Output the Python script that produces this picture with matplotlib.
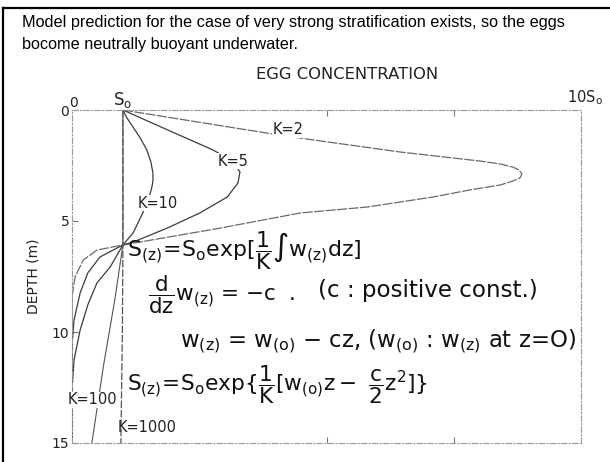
import matplotlib
matplotlib.use('Agg')
import matplotlib.pyplot as plt
from matplotlib.lines import Line2D

# egg concentration (units of S0) against depth (m), one profile per K
depth_k2 = [0, 1.04, 1.31, 1.89, 2.30, 2.43, 2.57, 2.70, 2.88, 3.06, 3.20, 3.38, 3.60, 3.92, 4.37, 4.64,
            5.32, 6.08, 6.31, 6.76, 7.52, 8.42, 15]
conc_k2 = [1, 3.83, 4.62, 6.44, 8.02, 8.41, 8.66, 8.78, 8.84, 8.80, 8.66, 8.41, 7.82, 7.09, 5.80, 4.48,
           2.91, 1, 0.49, 0.22, 0.06, 0, 0]

depth_k5 = [0, 0.95, 1.80, 2.30, 2.79, 3.29, 3.92, 4.64, 5.32, 5.95, 6.08, 6.62, 7.34, 8.24, 9.46, 10.59, 15]
conc_k5 = [1, 1.93, 2.77, 3.15, 3.30, 3.26, 3.05, 2.51, 1.87, 1.20, 1, 0.55, 0.31, 0.16, 0.04, 0, 0]

depth_k10 = [0, 0.36, 0.77, 1.26, 1.80, 2.34, 2.84, 3.20, 3.47, 4.05, 4.64, 5.54, 6.08, 7.07, 7.79, 8.78,
             9.91, 11.26, 12.61, 15]
conc_k10 = [1, 1.08, 1.20, 1.34, 1.47, 1.55, 1.59, 1.59, 1.57, 1.50, 1.39, 1.20, 1, 0.75, 0.49, 0.31,
            0.16, 0.04, 0, 0]

depth_k100 = [0, 6.08, 8.56, 11.5, 15]
conc_k100 = [1, 1, 0.84, 0.62, 0.39]

depth_k1000 = [0, 6.08, 10, 15]
conc_k1000 = [1, 1, 0.99, 0.96]

depth_ticks = [0, 5, 10, 15]
conc_ticks = [5, 7.5]

plt.rcParams['mathtext.default'] = 'regular'

fig = plt.figure(figsize=(6.1, 4.62), dpi=100)
ax = fig.add_axes([72 / 610, 1 - 443 / 462, 509 / 610, 333 / 462])

ink = '#3c3c3c'
ax.plot(conc_k2, depth_k2, color='#6a6a6a', lw=0.9, ls=(0, (8, 1.2)))
ax.plot(conc_k5, depth_k5, color=ink, lw=0.9)
ax.plot(conc_k10, depth_k10, color=ink, lw=0.9)
ax.plot(conc_k100, depth_k100, color='#555555', lw=0.8)
ax.plot(conc_k1000, depth_k1000, color='#555555', lw=0.9, ls=(0, (6, 1.5)))

ax.set_xlim(0, 10)
ax.set_ylim(15, 0)
for s in ax.spines.values():
    s.set_color('#9a9a9a')
    s.set_linewidth(0.8)
    s.set_linestyle((0, (5, 2, 1, 2)))

ax.set_yticks(depth_ticks)
ax.set_yticklabels(['0', '5', '10', '15'])
ax.set_xticks(conc_ticks)
ax.set_xticklabels([])
ax.tick_params(axis='x', direction='in', length=4, color='#777777', top=True, bottom=True)
ax.tick_params(axis='y', direction='in', length=4, color='#777777', pad=2,
               labelsize=10, labelcolor='#222222')
ax.set_ylabel('DEPTH (m)', fontsize=10, color='#222222', labelpad=8)
ax.set_title('EGG CONCENTRATION', fontsize=11.8, color='#222222', pad=22, x=0.54)

lbl = dict(fontsize=10.5, color='#222222', va='center', ha='left')
box = dict(facecolor='white', edgecolor='none', pad=0.5)
ax.text(0.02, -0.32, '0', fontsize=10, color='#222222', ha='center', va='center')
ax.text(1, -0.45, '$S_o$', fontsize=12, color='#222222', ha='center', va='center')
ax.text(10.08, -0.54, '$10S_o$', fontsize=10.5, color='#222222', ha='center', va='center')
ax.text(3.95, 0.9, 'K=2', bbox=box, **lbl)
ax.text(2.87, 2.3, 'K=5', bbox=box, **lbl)
ax.text(1.28, 4.19, 'K=10', bbox=box, **lbl)
ax.text(-0.08, 13.06, 'K=100', bbox=box, **lbl)
ax.text(0.9, 14.28, 'K=1000', **lbl)

eq = dict(color='#111111', va='center', ha='left')
ax.text(1.08, 6.35, r'$S_{(z)}\!=\!S_o exp[\dfrac{1}{K}\int w_{(z)}dz]$', fontsize=15.8, **eq)
ax.text(1.49, 8.3, r'$\dfrac{d}{dz}w_{(z)}$ = $-$c  .', fontsize=15.5, **eq)
ax.text(4.83, 8.15, '(c : positive const.)', fontsize=16.6, **eq)
ax.text(2.12, 10.45, r'$w_{(z)}$ = $w_{(o)}$ $-$ cz, ($w_{(o)}$ : $w_{(z)}$ at z=O)', fontsize=16.4, **eq)
ax.text(1.08, 12.35, r'$S_{(z)}\!=\!S_o exp\{\dfrac{1}{K}[w_{(o)}z-\ \dfrac{c}{2}z^2]\}$', fontsize=15.6, **eq)

fig.text(22 / 610, 1 - 22 / 462,
         'Model prediction for the case of very strong stratification exists, so the eggs',
         family='Liberation Sans', fontsize=11.7, va='center', ha='left')
fig.text(22 / 610, 1 - 45 / 462, 'bocome neutrally buoyant underwater.',
         family='Liberation Sans', fontsize=11.7, va='center', ha='left')

# frame along the top and left edges
fig.add_artist(Line2D([3 / 610, 1], [1 - 8 / 462, 1 - 8 / 462], color='black', lw=1.6))
fig.add_artist(Line2D([3 / 610, 3 / 610], [0, 1 - 8 / 462], color='black', lw=1.6))

fig.savefig('out.png', dpi=100)
